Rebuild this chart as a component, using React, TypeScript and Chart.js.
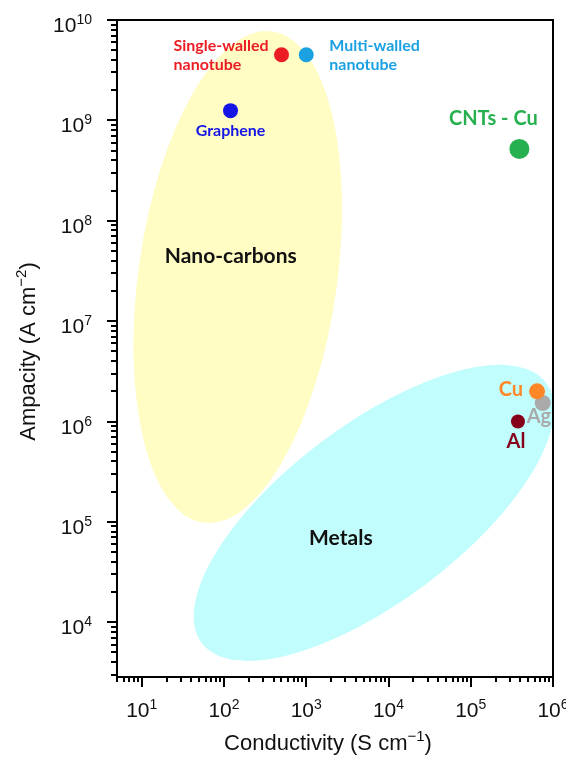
import React, { useEffect, useRef } from "react";
import { Chart, registerables } from "chart.js";

Chart.register(...registerables);

// Materials on the ampacity / conductivity map
const materials = [
  "Single-walled nanotube",
  "Multi-walled nanotube",
  "Graphene",
  "CNTs - Cu",
  "Ag",
  "Cu",
  "Al",
];
const conductivity = [500, 1000, 120, 3.9e5, 7.5e5, 6.4e5, 3.75e5]; // S cm^-1
const ampacity = [4.5e9, 4.5e9, 1.25e9, 5.2e8, 1.53e6, 2.0e6, 1.0e6]; // A cm^-2

// Axis extents and decade labels
const xRange = [5, 1e6];
const yRange = [2.85e3, 1e10];
const xDecades = [1, 2, 3, 4, 5, 6];
const yDecades = [4, 5, 6, 7, 8, 9, 10];

// Material families: centre (conductivity, ampacity), semi-axes in decades, tilt in degrees
const regionNames = ["Nano-carbons", "Metals"];
const regionCenterX = [147, 6640];
const regionCenterY = [2.75e7, 1.23e5];
const regionSemiA = [0.99, 2.15];
const regionSemiB = [2.47, 0.88];
const regionTilt = [8, -37.1];

// ---- styling ----
const pointColors = ["#ec1c24", "#1ba1e2", "#1414e6", "#26b04f", "#aaaaaa", "#ff8728", "#86001c"];
const pointRadii = [7.5, 7.5, 7.5, 10, 8, 8, 7];
const labelLines = [
  ["Single-walled", "nanotube"],
  ["Multi-walled", "nanotube"],
  ["Graphene"],
  ["CNTs - Cu"],
  ["Ag"],
  ["Cu"],
  ["Al"],
];
const labelStyle = [
  { size: 16, align: "left", dx: -108, dy: -4 },
  { size: 16, align: "left", dx: 23, dy: -4 },
  { size: 16, align: "center", dx: 0, dy: 25 },
  { size: 20, align: "center", dx: -26, dy: -24 },
  { size: 20, align: "left", dx: -16, dy: 20 },
  { size: 20, align: "right", dx: -14, dy: 5 },
  { size: 20, align: "center", dx: -2, dy: 26 },
];
const labelLineGap = 19;
const regionFill = ["#fffcc4", "#c2fdfd"];
const regionLabelOffset = [
  [-7, -14],
  [-33, 32],
];
const labelFont = "Lato, 'Open Sans', sans-serif";
const axisFont = "'Liberation Sans', Arial, sans-serif";

function drawPower(ctx, base, exp, x, y, align) {
  ctx.font = `21px ${axisFont}`;
  const wb = ctx.measureText(base).width;
  ctx.font = `14px ${axisFont}`;
  const we = ctx.measureText(exp).width;
  const total = wb + we;
  let start = x;
  if (align === "right") start = x - total;
  else if (align === "center") start = x - total / 2;
  ctx.textAlign = "left";
  ctx.font = `21px ${axisFont}`;
  ctx.fillText(base, start, y);
  ctx.font = `14px ${axisFont}`;
  ctx.fillText(exp, start + wb, y - 8);
}

// Title with a superscript part: [before, sup, after], centred at (0, 0)
function drawTitle(ctx, parts) {
  const [a, s, b] = parts;
  ctx.font = `22px ${axisFont}`;
  const wa = ctx.measureText(a).width;
  const wbb = ctx.measureText(b).width;
  ctx.font = `15px ${axisFont}`;
  const ws = ctx.measureText(s).width;
  let x = -(wa + ws + wbb) / 2;
  ctx.textAlign = "left";
  ctx.font = `22px ${axisFont}`;
  ctx.fillText(a, x, 0);
  x += wa;
  ctx.font = `15px ${axisFont}`;
  ctx.fillText(s, x, -9);
  x += ws;
  ctx.font = `22px ${axisFont}`;
  ctx.fillText(b, x, 0);
}

const mapDecor = {
  id: "mapDecor",
  beforeDatasetsDraw(chart) {
    const { ctx, chartArea: a, scales } = chart;
    const x = scales.x;
    const y = scales.y;
    const dec = Math.abs(y.getPixelForValue(1e6) - y.getPixelForValue(1e5));
    ctx.save();
    ctx.beginPath();
    ctx.rect(a.left, a.top, a.right - a.left, a.bottom - a.top);
    ctx.clip();
    const centres = regionNames.map((_, i) => [
      x.getPixelForValue(regionCenterX[i]),
      y.getPixelForValue(regionCenterY[i]),
    ]);
    regionNames.forEach((_, i) => {
      ctx.beginPath();
      ctx.ellipse(
        centres[i][0],
        centres[i][1],
        regionSemiA[i] * dec,
        regionSemiB[i] * dec,
        (regionTilt[i] * Math.PI) / 180,
        0,
        Math.PI * 2
      );
      ctx.fillStyle = regionFill[i];
      ctx.fill();
    });
    ctx.fillStyle = "#111111";
    ctx.font = `bold 21px ${labelFont}`;
    ctx.textAlign = "center";
    ctx.textBaseline = "alphabetic";
    regionNames.forEach((name, i) => {
      ctx.fillText(name, centres[i][0] + regionLabelOffset[i][0], centres[i][1] + regionLabelOffset[i][1]);
    });
    ctx.restore();
  },
  afterDatasetsDraw(chart) {
    const { ctx, scales } = chart;
    const x = scales.x;
    const y = scales.y;
    ctx.save();
    ctx.textBaseline = "alphabetic";
    materials.forEach((_, i) => {
      const px = x.getPixelForValue(conductivity[i]);
      const py = y.getPixelForValue(ampacity[i]);
      const st = labelStyle[i];
      ctx.font = `bold ${st.size}px ${labelFont}`;
      ctx.fillStyle = pointColors[i];
      ctx.textAlign = st.align;
      labelLines[i].forEach((line, k) => {
        ctx.fillText(line, px + st.dx, py + st.dy + k * labelLineGap);
      });
    });
    ctx.restore();
  },
  afterDraw(chart) {
    const { ctx, chartArea: a, scales } = chart;
    const x = scales.x;
    const y = scales.y;
    ctx.save();
    ctx.strokeStyle = "#000000";
    ctx.fillStyle = "#111111";
    ctx.lineWidth = 2;
    ctx.strokeRect(a.left, a.top, a.right - a.left, a.bottom - a.top);

    // y ticks (outside, to the left)
    for (let e = Math.floor(Math.log10(yRange[0])); e <= Math.ceil(Math.log10(yRange[1])); e++) {
      for (let m = 1; m <= 9; m++) {
        const v = m * Math.pow(10, e);
        if (v < yRange[0] * 0.999 || v > yRange[1] * 1.001) continue;
        const py = Math.round(y.getPixelForValue(v));
        const len = m === 1 ? 10 : 6;
        ctx.beginPath();
        ctx.moveTo(a.left, py);
        ctx.lineTo(a.left - len, py);
        ctx.stroke();
      }
    }
    // x ticks (outside, downward)
    for (let e = Math.floor(Math.log10(xRange[0])); e <= Math.ceil(Math.log10(xRange[1])); e++) {
      for (let m = 1; m <= 9; m++) {
        const v = m * Math.pow(10, e);
        if (v < xRange[0] * 0.999 || v > xRange[1] * 1.001) continue;
        const px = Math.round(x.getPixelForValue(v));
        const len = m === 1 ? 10 : 5;
        ctx.beginPath();
        ctx.moveTo(px, a.bottom);
        ctx.lineTo(px, a.bottom + len);
        ctx.stroke();
      }
    }

    // decade labels
    ctx.textBaseline = "alphabetic";
    yDecades.forEach((e) => {
      const py = y.getPixelForValue(Math.pow(10, e));
      drawPower(ctx, "10", String(e), a.left - 25, py + 12, "right");
    });
    xDecades.forEach((e) => {
      const px = x.getPixelForValue(Math.pow(10, e));
      drawPower(ctx, "10", String(e), px, a.bottom + 40, "center");
    });

    // axis titles
    ctx.save();
    ctx.translate((a.left + a.right) / 2 - 7, a.bottom + 73);
    drawTitle(ctx, ["Conductivity (S cm", "\u22121", ")"]);
    ctx.restore();
    ctx.save();
    ctx.translate(35, (a.top + a.bottom) / 2 + 3);
    ctx.rotate(-Math.PI / 2);
    drawTitle(ctx, ["Ampacity (A cm", "\u22122", ")"]);
    ctx.restore();

    ctx.restore();
  },
};

export default function App() {
  const canvasRef = useRef(null);

  useEffect(() => {
    const chart = new Chart(canvasRef.current, {
      type: "scatter",
      data: {
        datasets: [
          {
            label: "Materials",
            data: materials.map((_, i) => ({ x: conductivity[i], y: ampacity[i] })),
            pointRadius: pointRadii,
            pointHoverRadius: pointRadii,
            pointBackgroundColor: pointColors,
            pointBorderWidth: 0,
            pointBorderColor: pointColors,
          },
        ],
      },
      options: {
        responsive: false,
        animation: false,
        events: [],
        layout: { padding: { top: 20, right: 13, left: 0, bottom: 0 } },
        plugins: { legend: { display: false }, tooltip: { enabled: false } },
        scales: {
          x: {
            type: "logarithmic",
            min: xRange[0],
            max: xRange[1],
            ticks: { display: false },
            grid: { display: false },
            border: { display: false },
            afterFit: (s) => {
              s.height = 83;
            },
          },
          y: {
            type: "logarithmic",
            min: yRange[0],
            max: yRange[1],
            ticks: { display: false },
            grid: { display: false },
            border: { display: false },
            afterFit: (s) => {
              s.width = 117;
            },
          },
        },
      },
      plugins: [mapDecor],
    });
    return () => chart.destroy();
  }, []);

  return (
    <div style={{ position: "absolute", left: 0, top: 0, width: 566, height: 760, background: "#ffffff" }}>
      <canvas ref={canvasRef} width={566} height={760} style={{ display: "block" }} />
    </div>
  );
}
